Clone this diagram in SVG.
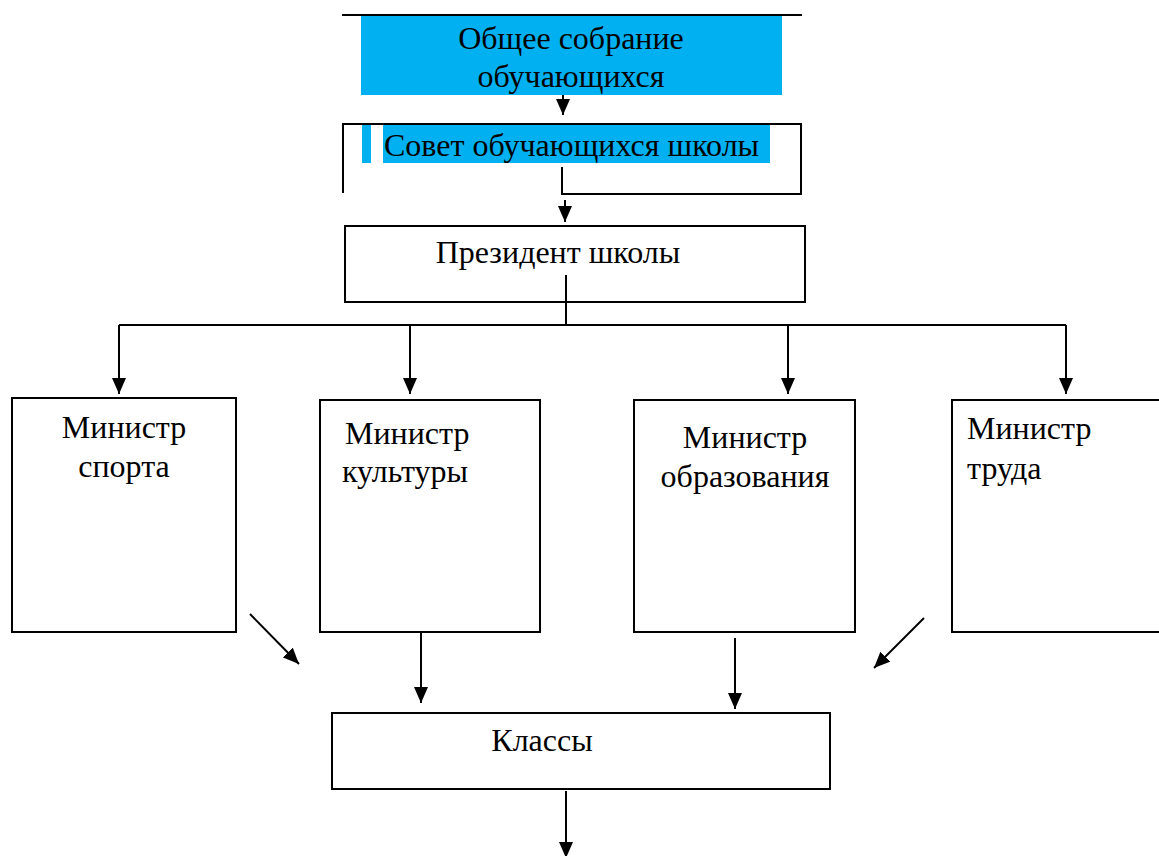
<svg xmlns="http://www.w3.org/2000/svg" width="1159" height="856" viewBox="0 0 1159 856">
<style>
.box{fill:#fff;stroke:#000;stroke-width:2}
.ln{fill:none;stroke:#000;stroke-width:2}
.t{font-family:"Liberation Serif","Times New Roman",serif;font-size:32px;fill:#000}
.c{text-anchor:middle}
.hl{fill:#00b0f0}
</style>
<defs>
<marker id="ah" viewBox="0 0 16 14" markerWidth="16" markerHeight="14" refX="16" refY="7" orient="auto" markerUnits="userSpaceOnUse">
<path d="M0,0 L16,7 L0,14 z" fill="#000"/>
</marker>
</defs>
<rect width="1159" height="856" fill="#fff"/>
<g id="n-assembly">
<line class="ln" x1="342" y1="15" x2="802" y2="15"/>
<rect class="hl" x="361" y="16" width="421" height="79"/>
<text class="t c" x="571" y="49">Общее собрание</text>
<text class="t c" x="571" y="87">обучающихся</text>
</g>
<g id="n-council">
<path class="ln" d="M343,193 V124 H801 V194 H562 V167"/>
<rect class="hl" x="362" y="125" width="9" height="38"/>
<rect class="hl" x="383" y="125" width="387" height="38"/>
<text class="t" x="384" y="156">Совет обучающихся школы</text>
</g>
<g id="n-president">
<rect class="box" x="345" y="226" width="460" height="76"/>
<text class="t c" x="558" y="263">Президент школы</text>
</g>
<g id="n-sport">
<rect class="box" x="12" y="398" width="224" height="234"/>
<text class="t c" x="124" y="438">Министр</text>
<text class="t c" x="124" y="477">спорта</text>
</g>
<g id="n-culture">
<rect class="box" x="320" y="400" width="220" height="232"/>
<text class="t" x="345" y="444">Министр</text>
<text class="t" x="342" y="482">культуры</text>
</g>
<g id="n-education">
<rect class="box" x="634" y="400" width="221" height="232"/>
<text class="t c" x="745" y="448">Министр</text>
<text class="t c" x="745" y="487">образования</text>
</g>
<g id="n-labor">
<rect class="box" x="952" y="400" width="220" height="232"/>
<text class="t" x="967" y="439">Министр</text>
<text class="t" x="967" y="479">труда</text>
</g>
<g id="n-classes">
<rect class="box" x="332" y="713" width="498" height="76"/>
<text class="t c" x="542" y="751">Классы</text>
</g>
<g id="connectors">
<line class="ln" x1="563" y1="95" x2="563" y2="115" marker-end="url(#ah)"/>
<line class="ln" x1="565" y1="200" x2="565" y2="222" marker-end="url(#ah)"/>
<line class="ln" x1="566" y1="275" x2="566" y2="325"/>
<line class="ln" x1="119" y1="325" x2="1066" y2="325"/>
<line class="ln" x1="119" y1="325" x2="119" y2="394" marker-end="url(#ah)"/>
<line class="ln" x1="410" y1="325" x2="410" y2="394" marker-end="url(#ah)"/>
<line class="ln" x1="788" y1="325" x2="788" y2="394" marker-end="url(#ah)"/>
<line class="ln" x1="1066" y1="325" x2="1066" y2="394" marker-end="url(#ah)"/>
<line class="ln" x1="250" y1="614" x2="299" y2="664" marker-end="url(#ah)"/>
<line class="ln" x1="924" y1="618" x2="874" y2="668" marker-end="url(#ah)"/>
<line class="ln" x1="421" y1="632" x2="421" y2="703" marker-end="url(#ah)"/>
<line class="ln" x1="735" y1="638" x2="735" y2="709" marker-end="url(#ah)"/>
<line class="ln" x1="566" y1="791" x2="566" y2="858" marker-end="url(#ah)"/>
</g>
</svg>
